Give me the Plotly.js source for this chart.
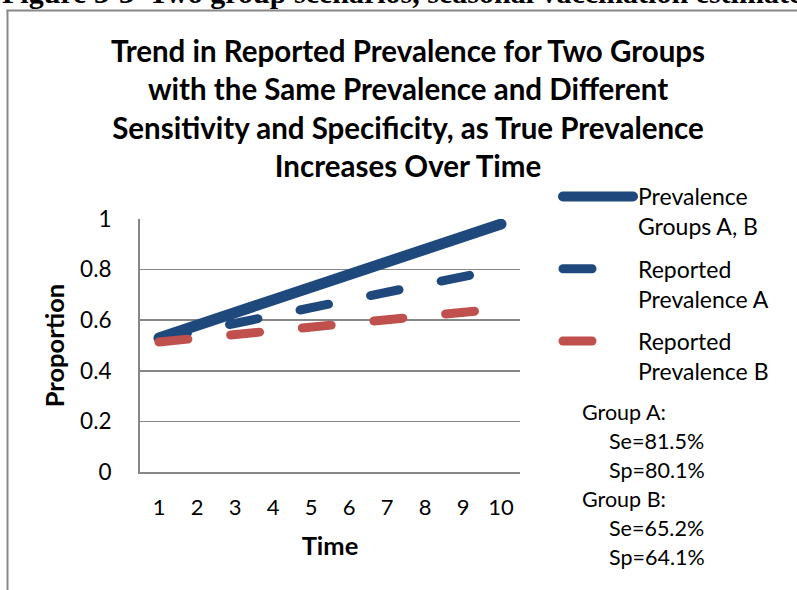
<!DOCTYPE html>
<html>
<head>
<meta charset="utf-8">
<script src="https://cdn.plot.ly/plotly-3.0.1.min.js"></script>
<style>
  html, body { margin: 0; padding: 0; background: #ffffff; }
  #chart { width: 797px; height: 590px; }
  /* rounded ends on the thick series strokes and legend samples */
  .scatterlayer path.js-line, .legendlines path { stroke-linecap: round; }
</style>
</head>
<body>
<div id="chart"></div>
<script>
// ---- data ----
const timePoints = [1, 2, 3, 4, 5, 6, 7, 8, 9, 10];
const prevalence = [0.53, 0.58, 0.63, 0.68, 0.73, 0.78, 0.83, 0.88, 0.93, 0.98];
const reportedA  = [0.526, 0.556, 0.587, 0.618, 0.649, 0.680, 0.710, 0.741, 0.772, 0.803];
const reportedB  = [0.514, 0.529, 0.544, 0.558, 0.573, 0.588, 0.602, 0.617, 0.632, 0.646];
const seriesNames = ['Prevalence<br>Groups A, B', 'Reported<br>Prevalence A', 'Reported<br>Prevalence B'];
const noteLines  = ['Group A:', 'Se=81.5%', 'Sp=80.1%', 'Group B:', 'Se=65.2%', 'Sp=64.1%'];
const noteIndent = [0, 1, 1, 0, 1, 1];
const chartTitle = 'Trend in Reported Prevalence for Two Groups<br>with the Same Prevalence and Different<br>Sensitivity and Specificity, as True Prevalence<br>Increases Over Time';
const captionText = 'Figure 3-3  Two group scenarios, seasonal vaccination estimates';

// ---- layout geometry ----
const W = 797, H = 590;
const M = { l: 140, r: 277, t: 219, b: 118 };
const plotW = W - M.l - M.r, plotH = H - M.t - M.b;
const px2x = p => (p - M.l) / plotW;          // page pixel -> paper x
const py2y = p => (H - M.b - p) / plotH;      // page pixel -> paper y

const BLUE = '#1F497D', RED = '#C0504D', GREY = '#878787';
const FONT = 'Lato, "Open Sans", sans-serif';

const traces = [
  { x: timePoints, y: prevalence, name: seriesNames[0], legendgroup: 'g1', mode: 'lines',
    line: { color: BLUE, width: 11 } },
  { x: timePoints, y: reportedA, name: seriesNames[1], legendgroup: 'g2', mode: 'lines',
    line: { color: BLUE, width: 9, dash: '29px,43px' } },
  { x: timePoints, y: reportedB, name: seriesNames[2], legendgroup: 'g3', mode: 'lines',
    line: { color: RED, width: 9, dash: '29px,43px' } }
];

const annotations = noteLines.map((t, i) => ({
  text: t, xref: 'paper', yref: 'paper', showarrow: false,
  x: px2x(noteIndent[i] ? 607 : 580), xanchor: 'left',
  y: py2y(412 + i * 29), yanchor: 'middle',
  font: { family: FONT, size: 21.5, color: '#000' }
}));
annotations.push({
  text: captionText, xref: 'paper', yref: 'paper', showarrow: false,
  x: px2x(0), xanchor: 'left', y: py2y(-8), yanchor: 'middle',
  font: { family: '"Liberation Serif", "Times New Roman", serif', size: 30, weight: 'bold', color: '#000' }
});

const layout = {
  width: W, height: H,
  margin: M,
  paper_bgcolor: '#ffffff', plot_bgcolor: '#ffffff',
  showlegend: true,
  title: {
    text: chartTitle, xref: 'container', yref: 'container',
    x: 408 / W, xanchor: 'center', y: 1 - 62 / H, yanchor: 'top',
    font: { family: FONT, size: 29.5, weight: 'bold', color: '#000' }
  },
  xaxis: {
    range: [0.5, 10.5], tickmode: 'array', tickvals: timePoints,
    ticktext: timePoints.map(String),
    showgrid: false, zeroline: false,
    showline: true, linecolor: GREY, linewidth: 2,
    ticks: 'outside', ticklen: 15, tickcolor: 'rgba(0,0,0,0)',
    tickfont: { family: FONT, size: 22, color: '#000' },
    title: { text: 'Time', standoff: 18, font: { family: FONT, size: 25.5, weight: 'bold', color: '#000' } },
    fixedrange: true
  },
  yaxis: {
    range: [0, 1], dtick: 0.2, tick0: 0,
    showgrid: true, gridcolor: GREY, gridwidth: 1.5,
    zeroline: false, showline: true, linecolor: GREY, linewidth: 2,
    ticks: 'outside', ticklen: 22, tickcolor: 'rgba(0,0,0,0)',
    tickfont: { family: FONT, size: 22.5, color: '#000' },
    title: { text: 'Proportion', standoff: 8, font: { family: FONT, size: 25.5, weight: 'bold', color: '#000' } },
    fixedrange: true
  },
  legend: {
    x: px2x(558), xanchor: 'left', y: py2y(175), yanchor: 'top',
    xref: 'paper', yref: 'paper',
    bgcolor: 'rgba(0,0,0,0)', borderwidth: 0,
    itemwidth: 70, valign: 'top', tracegroupgap: 9.5,
    font: { family: FONT, size: 23, color: '#000' }
  },
  shapes: [
    { type: 'line', xref: 'paper', yref: 'paper', layer: 'below',
      x0: px2x(7.5), x1: px2x(7.5), y0: py2y(10), y1: py2y(600),
      line: { color: GREY, width: 2 } },
    { type: 'line', xref: 'paper', yref: 'paper', layer: 'below',
      x0: px2x(6.5), x1: px2x(810), y0: py2y(10.5), y1: py2y(10.5),
      line: { color: GREY, width: 2 } }
  ],
  annotations: annotations
};

Plotly.newPlot('chart', traces, layout, { displayModeBar: false, staticPlot: true });
</script>
</body>
</html>
